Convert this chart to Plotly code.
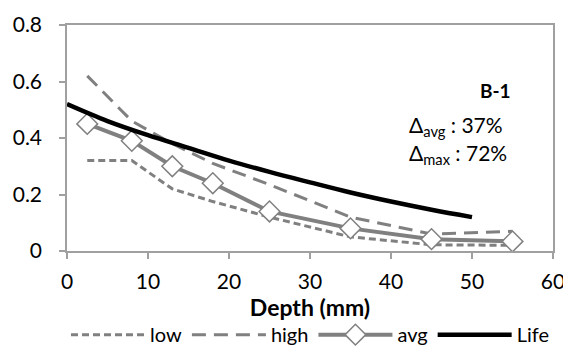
import plotly.graph_objects as go

depth_pts = [2.5, 8, 13, 18, 25, 35, 45, 55]
low = [0.32, 0.32, 0.22, 0.175, 0.12, 0.05, 0.022, 0.02]
high = [0.62, 0.46, 0.38, 0.31, 0.235, 0.12, 0.06, 0.07]
avg = [0.45, 0.39, 0.30, 0.24, 0.14, 0.08, 0.042, 0.034]
life_depth = [0, 5, 10, 15, 20, 25, 30, 35, 40, 45, 50]
life = [0.52, 0.46, 0.41, 0.365, 0.32, 0.28, 0.243, 0.207, 0.175, 0.146, 0.12]

GRAY = "#808080"
FONT = "Lato"

fig = go.Figure()
fig.add_trace(go.Scatter(x=depth_pts, y=low, name="low", mode="lines",
                         line=dict(color=GRAY, width=3, dash="7px,4px")))
fig.add_trace(go.Scatter(x=depth_pts, y=high, name="high", mode="lines",
                         line=dict(color=GRAY, width=3, dash="14px,8px")))
fig.add_trace(go.Scatter(x=depth_pts, y=avg, name="avg", mode="lines+markers",
                         line=dict(color=GRAY, width=4),
                         marker=dict(symbol="diamond", size=16, color="white",
                                     line=dict(color=GRAY, width=1.5))))
fig.add_trace(go.Scatter(x=life_depth, y=life, name="Life", mode="lines",
                         line=dict(color="black", width=4.5, shape="spline")))

fig.add_annotation(x=0.918, y=0.771, xref="paper", yref="paper", text="<b>B-1</b>",
                   showarrow=False, font=dict(family=FONT, size=19, color="black"))
fig.add_annotation(x=0.70, y=0.551, xref="paper", yref="paper", xanchor="left",
                   text="Δ<sub>avg</sub> : 37%", showarrow=False,
                   font=dict(family=FONT, size=21, color="black"))
fig.add_annotation(x=0.70, y=0.427, xref="paper", yref="paper", xanchor="left",
                   text="Δ<sub>max</sub> : 72%", showarrow=False,
                   font=dict(family=FONT, size=21, color="black"))

axis_common = dict(showline=True, linecolor="#a0a0a0", linewidth=1.5, mirror=True,
                   showgrid=False, zeroline=False, ticks="outside", tickcolor="#a0a0a0",
                   ticklen=6, tickwidth=1.5, automargin=False,
                   tickfont=dict(family=FONT, size=21, color="black"))

fig.update_xaxes(range=[0, 60], dtick=10, tick0=0,
                 title=dict(text="<b>Depth (mm)</b>", font=dict(family=FONT, size=23, color="black"),
                            standoff=6),
                 ticklabelstandoff=5, **axis_common)
fig.update_yaxes(range=[0, 0.8], dtick=0.2, tick0=0, tickformat=".1~f",
                 ticklabelstandoff=13, **axis_common)

# page has an 8px body margin, so the figure is drawn 8px right and down
fig.update_layout(
    width=563, height=356,
    margin=dict(l=59, r=18, t=17, b=112),
    plot_bgcolor="white", paper_bgcolor="white",
    font=dict(family=FONT, size=21, color="black"),
    legend=dict(orientation="h", x=0.5, xanchor="center", y=-0.45, yanchor="bottom",
                font=dict(family=FONT, size=20, color="black"),
                itemwidth=74, tracegroupgap=0, bgcolor="rgba(0,0,0,0)"),
)

fig.write_html("out.html")
